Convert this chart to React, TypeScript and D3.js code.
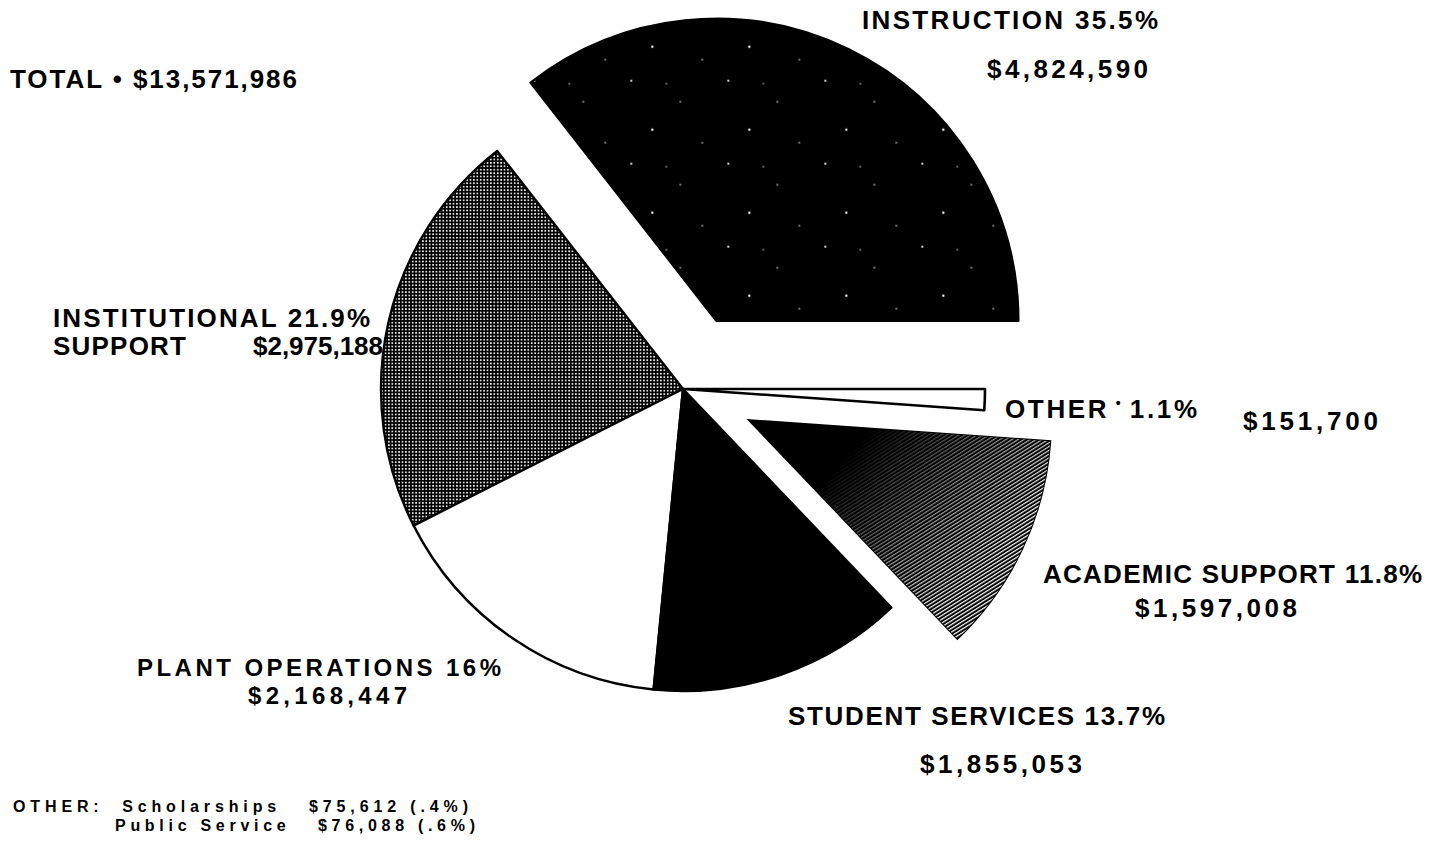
import React, { useEffect } from "react";
import * as d3 from "d3";

const categories = ["INSTRUCTION", "INSTITUTIONAL SUPPORT", "PLANT OPERATIONS", "STUDENT SERVICES", "ACADEMIC SUPPORT", "OTHER"];
const amounts = [4824590, 2975188, 2168447, 1855053, 1597008, 151700];
const percentLabels = ["35.5%", "21.9%", "16%", "13.7%", "11.8%", "1.1%"];
const amountLabels = ["$4,824,590", "$2,975,188", "$2,168,447", "$1,855,053", "$1,597,008", "$151,700"];
const totalLabel = "$13,571,986";
const footnoteLines = ["OTHER:  Scholarships   $75,612 (.4%)", "Public Service   $76,088 (.6%)"];

// styling per slice (index-aligned with categories)
const sliceFills = ["url(#speckle)", "url(#halftone)", "#ffffff", "#000000", "url(#academic)", "#ffffff"];
const sliceExplode = [76, 0, 0, 0, 73, 0];

const W = 1448, H = 845;
const CX = 683, CY = 389, R = 302;

type Lbl = { t: string; x: number; y: number; w: number; size?: number };
const labels: Lbl[] = [
  { t: "TOTAL \u2022 " + totalLabel, x: 10, y: 88, w: 287 },
  { t: categories[0] + " " + percentLabels[0], x: 862, y: 29, w: 296 },
  { t: amountLabels[0], x: 987, y: 78, w: 161 },
  { t: "INSTITUTIONAL " + percentLabels[1], x: 53, y: 327, w: 317 },
  { t: "SUPPORT", x: 53, y: 355, w: 133 },
  { t: amountLabels[1], x: 253, y: 355, w: 130 },
  { t: amountLabels[5], x: 1243, y: 430, w: 135 },
  { t: categories[4] + " " + percentLabels[4], x: 1043, y: 583, w: 379 },
  { t: amountLabels[4], x: 1135, y: 617, w: 162 },
  { t: categories[2] + " " + percentLabels[2], x: 137, y: 676, w: 364, size: 24 },
  { t: amountLabels[2], x: 248, y: 704, w: 159, size: 24 },
  { t: categories[3] + " " + percentLabels[3], x: 788, y: 725, w: 377 },
  { t: amountLabels[3], x: 920, y: 773, w: 162 },
  { t: footnoteLines[0], x: 13, y: 812, w: 455, size: 16 },
  { t: footnoteLines[1], x: 115, y: 831, w: 360, size: 16 },
];

export default function App() {
  useEffect(() => {
    document.body.style.margin = "0";
  }, []);

  const pie = d3
    .pie<number>()
    .sort(null)
    .value((d) => d)
    .startAngle(Math.PI / 2)
    .endAngle(Math.PI / 2 - 2 * Math.PI);
  const arcs = pie(amounts);
  const arcGen = d3.arc<d3.PieArcDatum<number>>().innerRadius(0).outerRadius(R);

  const offsetOf = (a: d3.PieArcDatum<number>, i: number) => {
    const mid = (a.startAngle + a.endAngle) / 2;
    const e = sliceExplode[i];
    return [Math.sin(mid) * e, -Math.cos(mid) * e];
  };

  const font = "'Liberation Sans', Arial, Helvetica, sans-serif";

  return (
    <div style={{ position: "absolute", left: 0, top: 0 }}>
      <svg width={W} height={H} viewBox={`0 0 ${W} ${H}`} style={{ display: "block", background: "#fff" }}>
        <defs>
          <pattern id="halftone" width={3.4} height={3.4} patternUnits="userSpaceOnUse">
            <rect width={3.4} height={3.4} fill="#000" />
            <rect x={0.9} y={0.9} width={1.6} height={1.6} fill="#fff" />
          </pattern>
          <pattern id="speckle" width={97} height={83} patternUnits="userSpaceOnUse">
            <rect width={97} height={83} fill="#000" />
            <circle cx={12} cy={9} r={1.1} fill="#fff" />
            <circle cx={61} cy={30} r={0.8} fill="#fff" />
            <circle cx={33} cy={58} r={1.2} fill="#fff" />
            <circle cx={83} cy={71} r={0.8} fill="#fff" />
            <circle cx={47} cy={12} r={0.7} fill="#fff" />
          </pattern>
          <pattern id="hatchLines" width={3.2} height={3.2} patternUnits="userSpaceOnUse" patternTransform="rotate(-32)">
            <rect y={1.6} width={3.2} height={1.2} fill="#fff" />
          </pattern>
          <linearGradient id="hatchFade" gradientUnits="userSpaceOnUse" x1={860} y1={440} x2={990} y2={560}>
            <stop offset="0" stopColor="#000" />
            <stop offset="0.35" stopColor="#555" />
            <stop offset="1" stopColor="#fff" />
          </linearGradient>
          <mask id="hatchMask" maskUnits="userSpaceOnUse" x={0} y={0} width={W} height={H}>
            <rect width={W} height={H} fill="url(#hatchFade)" />
          </mask>
        </defs>

        <g transform={`translate(${CX},${CY})`}>
          {arcs.map((a, i) => {
            const [dx, dy] = offsetOf(a, i);
            const d = arcGen(a) || "";
            const fill = sliceFills[i];
            return (
              <g key={categories[i]} transform={`translate(${dx},${dy})`}>
                {fill === "url(#academic)" ? (
                  <>
                    <path d={d} fill="#000" stroke="#000" strokeWidth={2} />
                    <g mask="url(#hatchMask)" transform={`translate(${-CX - dx},${-CY - dy})`}>
                      <path d={d} transform={`translate(${CX + dx},${CY + dy})`} fill="url(#hatchLines)" />
                    </g>
                  </>
                ) : (
                  <path
                    d={d}
                    fill={fill}
                    stroke="#000"
                    strokeWidth={i === 5 ? 2.6 : 2.4}
                    strokeLinejoin="round"
                  />
                )}
              </g>
            );
          })}
        </g>

        <g fill="#000" fontFamily={font} fontWeight="bold" style={{ whiteSpace: "pre" }}>
          {labels.map((l) => (
            <text
              key={l.t + l.y}
              x={l.x}
              y={l.y}
              fontSize={l.size || 26}
              textLength={l.w}
              lengthAdjust="spacing"
              style={{ whiteSpace: "pre" }}
            >
              {l.t}
            </text>
          ))}
          <text x={1005} y={418} fontSize={26} textLength={192} lengthAdjust="spacing" style={{ whiteSpace: "pre" }}>
            {categories[5]}
            <tspan fontSize={14} dy={-10}>{" \u2022 "}</tspan>
            <tspan dy={10}>{percentLabels[5]}</tspan>
          </text>
        </g>
      </svg>
    </div>
  );
}
